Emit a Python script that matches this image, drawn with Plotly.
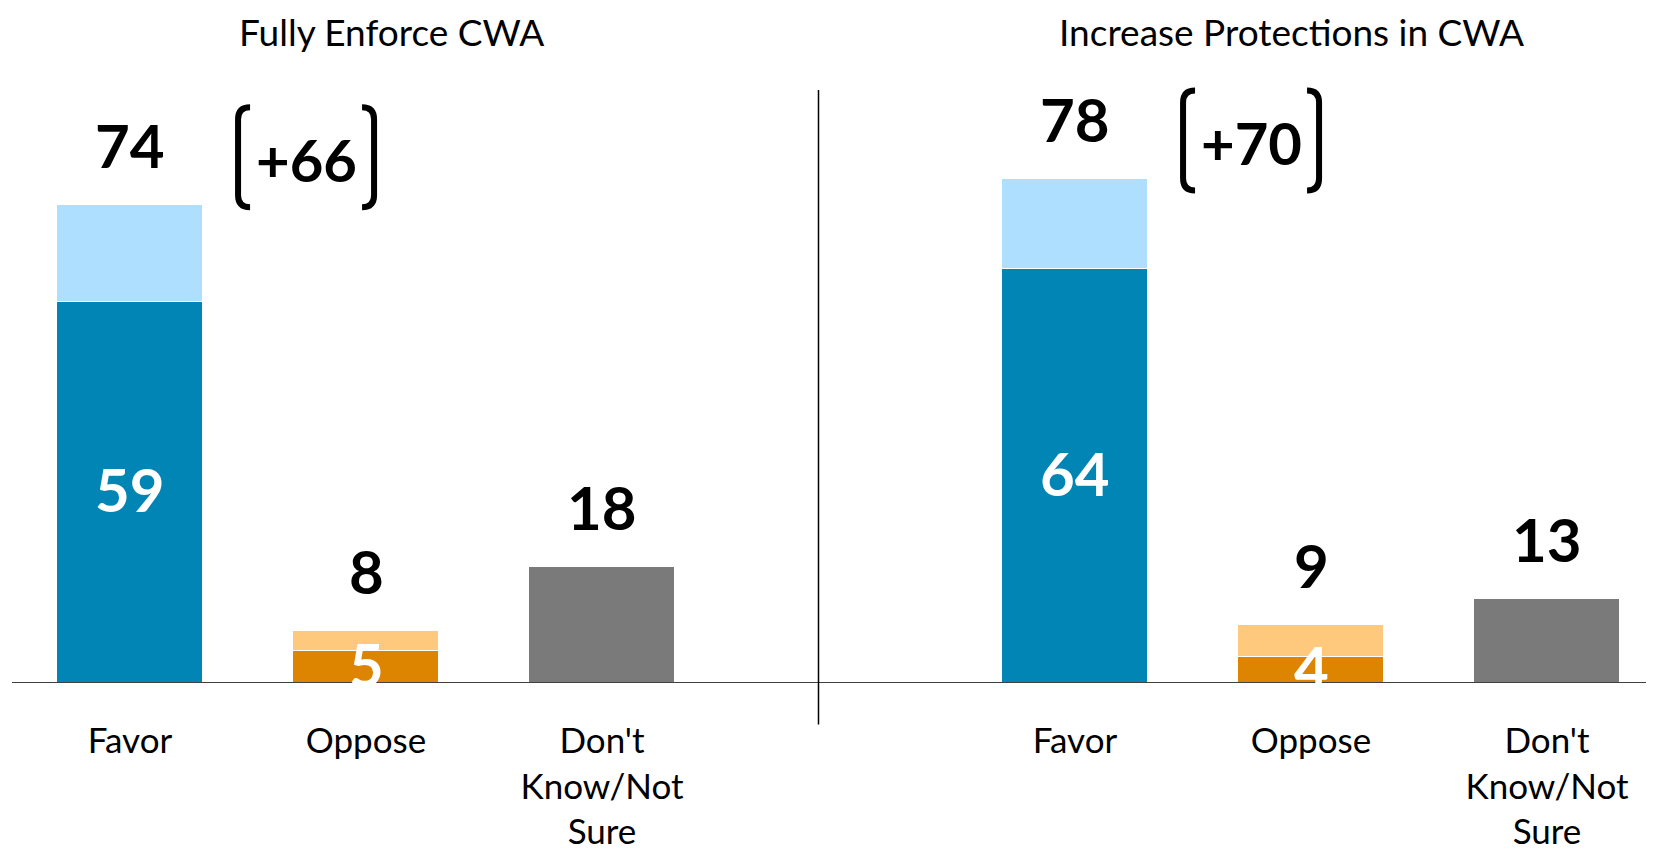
import plotly.graph_objects as go

# data
panels = ["Fully Enforce CWA", "Increase Protections in CWA"]
categories = ["Favor", "Oppose", "Don't<br>Know/Not<br>Sure"]
strong_enforce = [59, 5, 18]
total_enforce = [74, 8, 18]
strong_protect = [64, 4, 13]
total_protect = [78, 9, 13]
net_favor = [66, 70]

dark_colors = ["#0085B5", "#DD8500", "#7A7A7A"]
light_colors = ["#AEDFFE", "#FFC97D", "#7A7A7A"]

# the page body has an 8px margin, so the figure is drawn 8px smaller
OFF = 8
W, H = 1654 - OFF, 856 - OFF
ML, MR, MT = 12 - OFF, 0, 0
PLOT_BOTTOM = 683.5 - OFF
MB = H - PLOT_BOTTOM
PW, PH = W - ML - MR, PLOT_BOTTOM - MT
PX_PER_UNIT_X = 236.0
PX_PER_UNIT_Y = 6.47
Y_MAX = PH / PX_PER_UNIT_Y

FONT = "Lato, 'Open Sans', Arial, sans-serif"


def px_x(p):
    return (p - OFF - ML) / PW


def px_y(p):
    return (PLOT_BOTTOM - (p - OFF)) / PH


fig = go.Figure()
xs = list(range(len(categories)))
axes = ["x", "x2"]
strong_sets = [strong_enforce, strong_protect]
total_sets = [total_enforce, total_protect]
net_lift = [7.0, 5.6]

for k in range(2):
    strong = strong_sets[k]
    total = total_sets[k]
    rest = [t - s for t, s in zip(total, strong)]
    fig.add_trace(go.Bar(
        x=xs, y=strong, xaxis=axes[k], yaxis="y", width=0.615,
        marker=dict(color=dark_colors, line=dict(color="white", width=1.5)),
        hoverinfo="skip", showlegend=False,
    ))
    fig.add_trace(go.Bar(
        x=xs, y=rest, xaxis=axes[k], yaxis="y", width=0.615,
        marker=dict(color=light_colors,
                    line=dict(color="white", width=[1.5 if r > 0 else 0 for r in rest])),
        hoverinfo="skip", showlegend=False,
    ))

    # totals above the bars
    for i, t in enumerate(total):
        fig.add_annotation(x=i, y=t, xref=axes[k], yref="y", text=f"<b>{t}</b>",
                           showarrow=False, yanchor="middle", yshift=60,
                           font=dict(family=FONT, size=60, color="black"))
    # strong values inside the stacked bars
    for i in range(2):
        fig.add_annotation(x=i, y=strong[i] / 2, xref=axes[k], yref="y",
                           text=f"<b>{strong[i]}</b>", showarrow=False,
                           yanchor="middle", yshift=3,
                           font=dict(family=FONT, size=60, color="white"))

    # net favor in brackets
    nx, ny = 0.746, total[0] + net_lift[k]
    fig.add_annotation(x=nx, y=ny, xref=axes[k], yref="y", text=f"<b>+{net_favor[k]}</b>",
                       showarrow=False, yanchor="middle",
                       font=dict(family=FONT, size=58, color="black"))
    ux, uy = 1 / PX_PER_UNIT_X, 1 / PX_PER_UNIT_Y
    top, bot = ny + 52 * uy, ny - 48 * uy
    r_x, r_y = 12 * ux, 12 * uy
    for side in (-1, 1):
        outer = nx + side * 68 * ux
        inner = nx + side * 56 * ux
        path = (f"M {inner} {top} Q {outer} {top} {outer} {top - r_y} "
                f"L {outer} {bot + r_y} Q {outer} {bot} {inner} {bot}")
        fig.add_shape(type="path", path=path, xref=axes[k], yref="y",
                      line=dict(color="black", width=6))

# panel titles
title_x = [391, 1291]
for k in range(2):
    fig.add_annotation(x=px_x(title_x[k]), y=1, xref="paper", yref="paper",
                       text=panels[k], showarrow=False, xanchor="center", yanchor="top",
                       borderpad=0, font=dict(family=FONT, size=37, color="black"))

# baseline and divider
fig.add_shape(type="line", xref="paper", yref="y", x0=0, x1=1, y0=0, y1=0,
              line=dict(color="black", width=1.5))
fig.add_shape(type="line", xref="paper", yref="paper",
              x0=px_x(818.5), x1=px_x(818.5), y0=px_y(90), y1=px_y(725),
              line=dict(color="black", width=1.5))

left_end = 3 * PX_PER_UNIT_X / PW
right_px = 1654 - (1075 - PX_PER_UNIT_X / 2)
right_start = 1 - right_px / PW
axis_common = dict(tickvals=xs, ticktext=categories, showgrid=False, zeroline=False,
                   showline=False, ticks="", ticklabelstandoff=34,
                   tickfont=dict(family=FONT, size=35, color="black"), fixedrange=True)
fig.update_layout(
    width=W, height=H,
    margin=dict(l=ML, r=MR, t=MT, b=MB),
    paper_bgcolor="white", plot_bgcolor="white",
    barmode="stack", bargap=0,
    xaxis=dict(domain=[0, left_end], range=[-0.5, 2.5], anchor="y", **axis_common),
    xaxis2=dict(domain=[right_start, 1], range=[-0.5, -0.5 + right_px / PX_PER_UNIT_X],
                anchor="y", **axis_common),
    yaxis=dict(range=[0, Y_MAX], visible=False, fixedrange=True),
)

fig.write_html("out.html")
